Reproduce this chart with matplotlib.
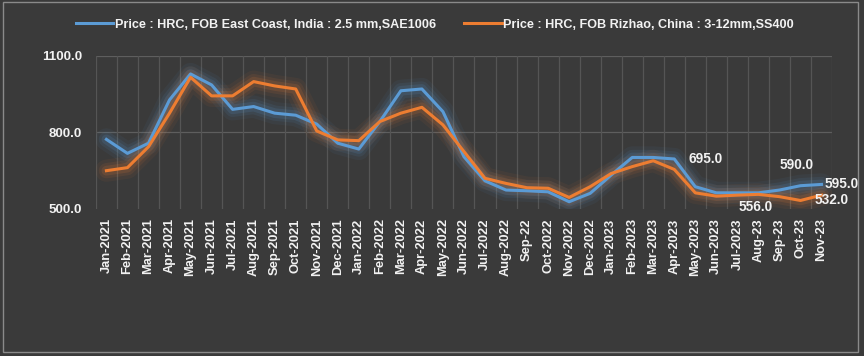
import matplotlib
matplotlib.use("Agg")
import matplotlib.pyplot as plt
from matplotlib.patches import Rectangle

# Monthly HRC prices (USD/t)
months = ["Jan-2021", "Feb-2021", "Mar-2021", "Apr-2021", "May-2021", "Jun-2021",
          "Jul-2021", "Aug-2021", "Sep-2021", "Oct-2021", "Nov-2021", "Dec-2021",
          "Jan-2022", "Feb-2022", "Mar-2022", "Apr-2022", "May-2022", "Jun-2022",
          "Jul-2022", "Aug-2022", "Sep-22", "Oct-2022", "Nov-2022", "Dec-2022",
          "Jan-2023", "Feb-2023", "Mar-2023", "Apr-2023", "May-2023", "Jun-2023",
          "Jul-2023", "Aug-23", "Sep-23", "Oct-23", "Nov-23"]

india = [772, 717, 757, 927, 1029, 986, 890, 901, 875, 867, 832, 757,
         734, 842, 963, 970, 881, 704, 609, 573, 570, 566, 527, 560,
         632, 701, 701, 695, 586, 562, 562, 562, 573, 590, 595]

china = [649, 661, 743, 875, 1016, 943, 943, 999, 982, 970, 805, 770,
         767, 842, 875, 898, 829, 724, 619, 599, 582, 580, 544, 586,
         638, 665, 688, 654, 562, 549, 553, 556, 547, 532, 553]

india_name = "Price : HRC, FOB East Coast, India : 2.5 mm,SAE1006"
china_name = "Price : HRC, FOB Rizhao, China : 3-12mm,SS400"

yticks = [500, 800, 1100]

BG = "#3a3a3a"
BLUE = "#5b9bd5"
ORANGE = "#ed7d31"
TXT = "#f2f2f2"
FONT = ["Liberation Sans", "DejaVu Sans"]

plt.rcParams["font.family"] = FONT
plt.rcParams["font.weight"] = "bold"

fig = plt.figure(figsize=(8.64, 3.56), dpi=100, facecolor=BG)
fig.patches.append(Rectangle((0.003, 0.01), 0.99, 0.985, transform=fig.transFigure,
                             fill=False, edgecolor="#8a8a8a", linewidth=1))
ax = fig.add_axes([0.111, 0.414, 0.852, 0.429])
ax.set_facecolor(BG)

x = list(range(len(months)))

# soft glow under each line
for series, col in [(india, BLUE), (china, ORANGE)]:
    for w, a in [(16, 0.06), (11, 0.09), (7, 0.14)]:
        ax.plot(x, series, color=col, linewidth=w, alpha=a, solid_capstyle="round",
                solid_joinstyle="round")

ax.plot(x, india, color=BLUE, linewidth=2.2, label=india_name)
ax.plot(x, china, color=ORANGE, linewidth=2.2, label=china_name)

ax.set_xlim(-0.5, len(months) - 0.5)
ax.set_ylim(500, 1100)
ax.set_yticks(yticks)
ax.set_yticklabels([f"{v:.1f}" for v in yticks], fontsize=9.6, color=TXT)
ax.set_xticks(x)
ax.set_xticklabels(months, rotation=90, fontsize=9.3, color=TXT)
ax.tick_params(axis="x", length=0, pad=7)
ax.tick_params(axis="y", length=0, pad=10)

# gridlines: horizontal at major values, vertical between categories
for v in yticks[1:]:
    ax.axhline(v, color="#5e5e5e", linewidth=0.9, zorder=0)
for b in range(len(months) + 1):
    ax.axvline(b - 0.5, color="#555555", linewidth=0.9, zorder=0)
for s in ax.spines.values():
    s.set_visible(False)

# data labels
lab = dict(fontsize=9.8, color=TXT, fontweight="bold", textcoords="offset points")
ax.annotate(f"{india[27]:.1f}", (27, india[27]), xytext=(10, 0), ha="left", va="center", **lab)
ax.annotate(f"{india[33]:.1f}", (33, india[33]), xytext=(-3, 10), ha="center", va="bottom", **lab)
ax.annotate(f"{india[34]:.1f}", (34, india[34]), xytext=(2, 0), ha="left", va="center", **lab)
ax.annotate(f"{china[33]:.1f}", (33, china[33]), xytext=(10, 0), ha="left", va="center", **lab)
ax.annotate(f"{china[31]:.1f}", (31, china[31]), xytext=(-2, -4), ha="center", va="top", **lab)

fig.legend(loc="center", bbox_to_anchor=(0.503, 0.93), ncol=2, frameon=False,
           labelcolor=TXT, handlelength=3.0, handletextpad=0.1, columnspacing=2.2,
           prop={"family": FONT, "weight": "bold", "size": 9.1})

fig.savefig("out.png", dpi=100, facecolor=BG)
